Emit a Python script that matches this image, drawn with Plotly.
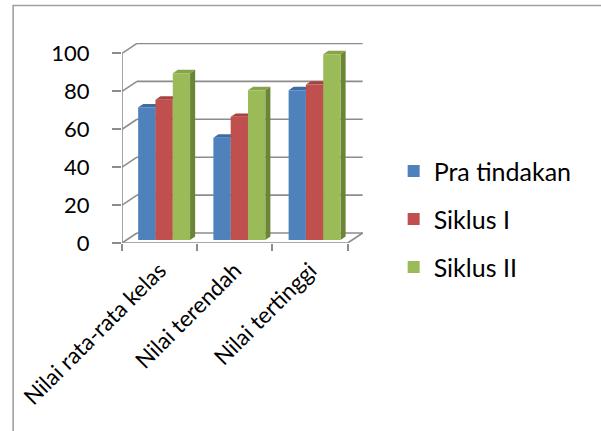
import plotly.graph_objects as go

# ---- data ----
categories = ["Nilai rata-rata kelas", "Nilai terendah", "Nilai tertinggi"]
series_names = ["Pra tindakan", "Siklus I", "Siklus II"]
pra_tindakan = [70, 54, 79]
siklus_1 = [74, 65, 82]
siklus_2 = [88, 79, 98]
y_ticks = [0, 20, 40, 60, 80, 100]

series_values = [pra_tindakan, siklus_1, siklus_2]
front_colors = ["#4F81BD", "#C0504D", "#9BBB59"]
top_colors = ["#3F6CA6", "#A8423F", "#86A548"]
side_colors = ["#345A8C", "#8C3633", "#6A8536"]

# ---- layout geometry (pixels) ----
W, H = 601, 431
L, R = 122, 601 - 365.3
T, B = 42.55, 431 - 243
x_range = [-0.5, 2.73]
y_range = [0, 105.5]
pw = W - L - R
ph = H - T - B
pxu = pw / (x_range[1] - x_range[0])
pyu = ph / (y_range[1] - y_range[0])

# 3D depth offsets (in data units)
dxb, dyb = 15 / pxu, 10 / pyu          # back wall
dxp, dyp = 0.3 * dxb, 0.3 * dyb        # bar front plane
ddx, ddy = 0.34 * dxb, 0.34 * dyb      # bar depth
bw = 0.23
offsets = [-bw, 0, bw]

grid_col = "#8C8C8C"
font_family = "Lato"

fig = go.Figure()
shapes = []

# back wall + left wall grid
for v in y_ticks:
    shapes.append(dict(type="line", xref="x", yref="y", x0=-0.5 + dxb, y0=v + dyb,
                       x1=2.5 + dxb, y1=v + dyb, line=dict(color=grid_col, width=1.6), layer="below"))
    shapes.append(dict(type="line", xref="x", yref="y", x0=-0.5, y0=v,
                       x1=-0.5 + dxb, y1=v + dyb, line=dict(color=grid_col, width=1.6), layer="below"))
# floor right edge
shapes.append(dict(type="line", xref="x", yref="y", x0=2.5, y0=0, x1=2.5 + dxb, y1=dyb,
                   line=dict(color=grid_col, width=1.6), layer="below"))

for si, (name, vals) in enumerate(zip(series_names, series_values)):
    xs = [i + offsets[si] + dxp for i in range(len(categories))]
    fig.add_trace(go.Bar(
        x=xs, y=vals, base=dyp, width=bw, name=name,
        marker=dict(color=front_colors[si], line=dict(width=0)),
        legendgroup=name,
        customdata=categories,
        hovertemplate="%{customdata}<br>" + name + ": %{y}<extra></extra>",
    ))
    for xc, v in zip(xs, vals):
        x0, x1 = xc - bw / 2, xc + bw / 2
        top = v + dyp
        bot = dyp
        # top face
        shapes.append(dict(type="path", xref="x", yref="y", layer="between",
                           path=f"M{x0},{top} L{x1},{top} L{x1+ddx},{top+ddy} L{x0+ddx},{top+ddy} Z",
                           fillcolor=top_colors[si], line=dict(width=0)))
        # side face
        shapes.append(dict(type="path", xref="x", yref="y", layer="between",
                           path=f"M{x1},{bot} L{x1+ddx},{bot+ddy} L{x1+ddx},{top+ddy} L{x1},{top} Z",
                           fillcolor=side_colors[si], line=dict(width=0)))

# front axis lines
shapes.append(dict(type="line", xref="x", yref="y", x0=-0.5, y0=0, x1=-0.5, y1=y_ticks[-1],
                   line=dict(color=grid_col, width=1.6), layer="above"))
shapes.append(dict(type="line", xref="x", yref="y", x0=-0.5, y0=0, x1=2.5, y1=0,
                   line=dict(color=grid_col, width=1.6), layer="above"))

# chart border
bx0 = (13 - L) / pw
bx1 = (640 - L) / pw
by1 = (H - B - 5) / ph
by0 = (H - B - 470) / ph
shapes.append(dict(type="rect", xref="paper", yref="paper", x0=bx0, x1=bx1, y0=by0, y1=by1,
                   line=dict(color="#A0A0A0", width=1.6), fillcolor="rgba(0,0,0,0)", layer="above"))

fig.update_layout(
    width=W, height=H,
    margin=dict(l=L, r=R, t=T, b=B, pad=0),
    paper_bgcolor="white", plot_bgcolor="white",
    barmode="overlay",
    showlegend=True,
    shapes=shapes,
    font=dict(family=font_family, color="#000000"),
    legend=dict(
        x=(394 - L) / pw, xanchor="left",
        y=(H - B - 148) / ph, yanchor="top",
        font=dict(family=font_family, size=25, color="#000000"),
        traceorder="grouped", tracegroupgap=12.5,
        bgcolor="rgba(0,0,0,0)",
    ),
    xaxis=dict(
        range=x_range, tickmode="array", tickvals=[0, 1, 2], ticktext=categories,
        tickangle=-45, ticks="", showgrid=False, zeroline=False, showline=False,
        tickfont=dict(family=font_family, size=22.5, color="#000000"),
        ticklabelstandoff=9,
        minor=dict(ticks="outside", tick0=-0.5, dtick=1, ticklen=7, tickwidth=1.6,
                   tickcolor=grid_col, showgrid=False),
        fixedrange=True,
    ),
    yaxis=dict(
        range=y_range, tickmode="array", tickvals=y_ticks,
        ticks="outside", ticklen=9, tickwidth=1.6, tickcolor=grid_col,
        showgrid=False, zeroline=False, showline=False,
        tickfont=dict(family=font_family, size=22, color="#000000"),
        ticklabelstandoff=18,
        fixedrange=True,
    ),
)

fig.write_html("out.html")
